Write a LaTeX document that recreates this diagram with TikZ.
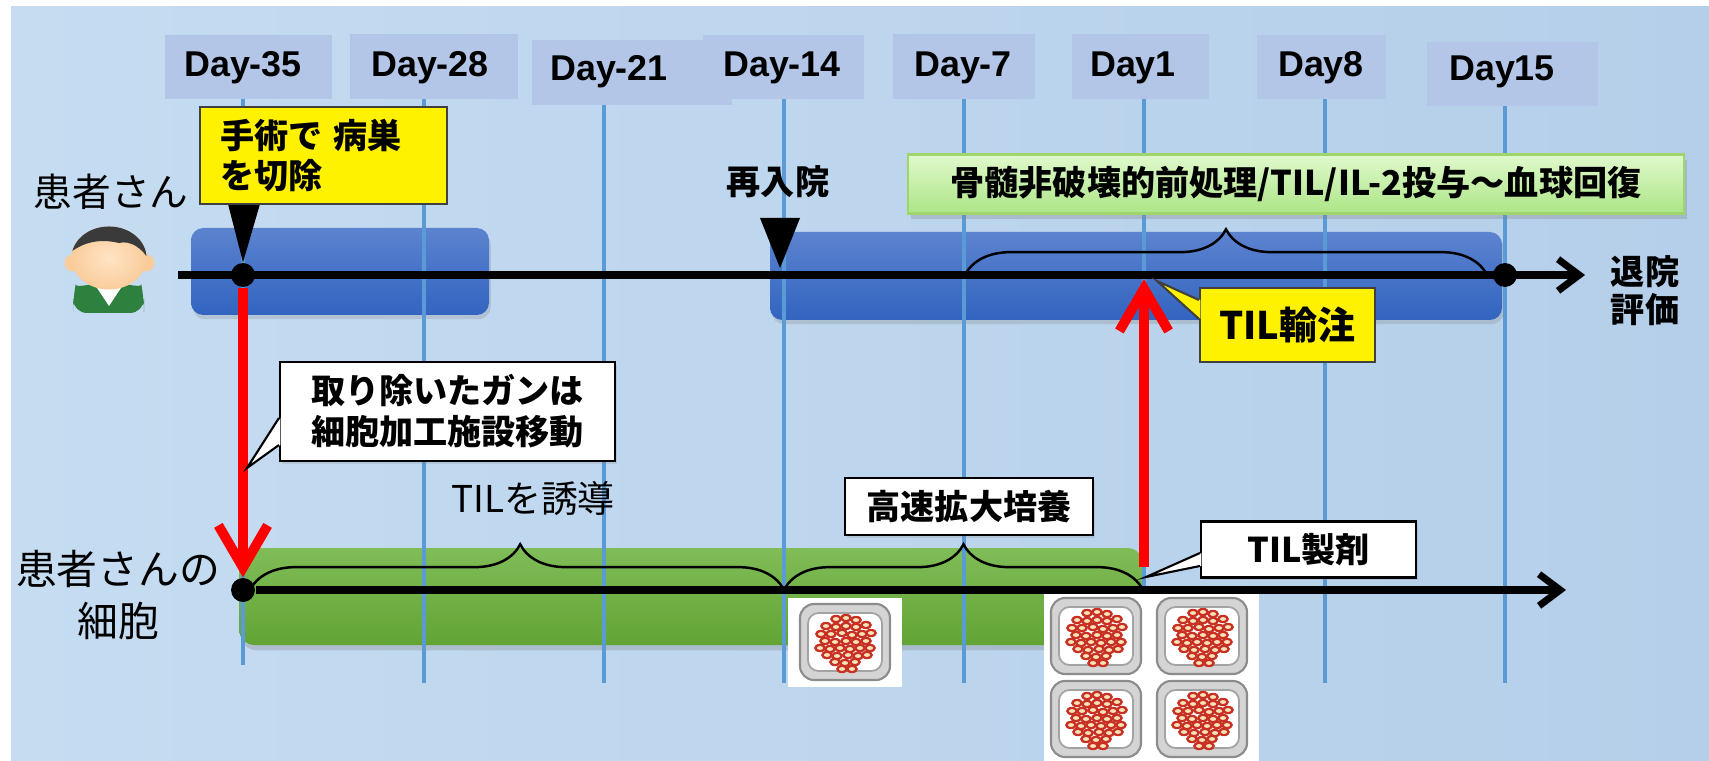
\documentclass[tikz,border=0pt]{standalone}
\usepackage{fontspec}
\setsansfont{Liberation Sans}
\newfontfamily\jp{Noto Sans CJK JP}
\usetikzlibrary{arrows.meta,calc,decorations.pathreplacing,shadows,positioning}

% colours of the schedule
\definecolor{bgleft}{RGB}{197,220,241}
\definecolor{bgmid}{RGB}{208,227,244}
\definecolor{bgright}{RGB}{181,207,234}
\definecolor{daybg}{RGB}{180,198,231}
\definecolor{gridblue}{RGB}{91,155,213}
\definecolor{bartop}{RGB}{92,131,207}
\definecolor{barbot}{RGB}{50,100,192}
\definecolor{celltop}{RGB}{128,188,88}
\definecolor{cellbot}{RGB}{98,164,52}
\definecolor{labtop}{RGB}{224,249,204}
\definecolor{labbot}{RGB}{172,229,134}
\definecolor{labedge}{RGB}{158,214,108}
\definecolor{dishgray}{RGB}{212,212,212}
\definecolor{dishedge}{RGB}{140,140,140}
\definecolor{cellred}{RGB}{200,48,36}
\definecolor{cellcore}{RGB}{248,226,182}
\definecolor{skin}{RGB}{250,204,156}
\definecolor{skinlight}{RGB}{255,228,196}
\definecolor{hair}{RGB}{58,58,58}
\definecolor{shirt}{RGB}{46,128,62}

\tikzset{
  daybox/.style={fill=daybg, inner sep=0pt},
  daytext/.style={font=\sffamily\bfseries\fontsize{10.2}{12}\selectfont, inner sep=0pt},
  gridline/.style={gridblue, line width=1.2pt},
  timeline/.style={line width=2pt, -{Straight Barb[length=6pt,width=9pt]}},
  tdot/.style={circle, fill=black, inner sep=0pt, minimum size=6.8pt},
  redarrow/.style={red, line width=2.8pt, -{Straight Barb[length=12pt,width=14pt]}},
  curly/.style={decorate, decoration={brace, amplitude=13pt, aspect=#1}, line width=0.7pt},
  curly/.default=0.5,
  barshade/.style={top color=bartop, bottom color=barbot,
    drop shadow={opacity=0.25, shadow xshift=0.5pt, shadow yshift=-1.2pt}},
  cellshade/.style={top color=celltop, bottom color=cellbot,
    drop shadow={opacity=0.3, shadow xshift=0.5pt, shadow yshift=-1.5pt}},
  labelbox/.style={draw=labedge, line width=0.6pt, top color=labtop, bottom color=labbot,
    drop shadow={opacity=0.3, shadow xshift=0.8pt, shadow yshift=-1.5pt},
    font=\jp\bfseries\fontsize{9.7}{11.5}\selectfont},
  callbox/.style={draw=black, line width=0.6pt, fill=white,
    drop shadow={opacity=0.2, shadow xshift=0.6pt, shadow yshift=-0.8pt},
    font=\jp\bfseries\fontsize{9.7}{11.5}\selectfont},
  yellowbox/.style={draw=black!75, line width=0.6pt, fill=yellow,
    font=\jp\bfseries\fontsize{9.7}{11.5}\selectfont},
  jtext/.style={font=\jp\fontsize{11}{13}\selectfont, inner sep=0pt},
  jbold/.style={font=\jp\bfseries\fontsize{9.7}{11}\selectfont, inner sep=0pt},
  dish/.pic={
    \filldraw[fill=dishgray, draw=dishedge, line width=0.6pt, rounded corners=4pt] (-45,-38) rectangle (45,38);
    \filldraw[fill=white, draw=dishedge!80, line width=0.5pt, rounded corners=3pt] (-37,-29) rectangle (37,29);
    \foreach \cx/\cy in {-9/-23,1/-24,11/-22,
        -19/-16,-9/-15,1/-16,11/-15,21/-17,
        -24/-8,-14/-8,-3/-9,7/-7,17/-8,26/-9,
        -20/-1,-10/0,1/-1,11/0,21/-1,
        -25/6,-15/7,-5/6,5/7,15/6,25/6,
        -18/13,-8/14,3/13,13/14,22/13,
        -10/20,0/21,10/20,-3/27,7/27}{
      \fill[cellred] (\cx,\cy) ellipse [x radius=0.06cm, y radius=0.042cm];
      \fill[cellcore] (\cx,\cy) ellipse [x radius=0.031cm, y radius=0.019cm];
    }
  }
}

\begin{document}
\begin{tikzpicture}[x=0.01cm, y=-0.01cm]
    \useasboundingbox (0,0) rectangle (1709,761);
    \fill[white] (0,0) rectangle (1709,761);
    \shade[left color=bgleft, middle color=bgmid, right color=bgright] (11,7) rectangle (1709,761);

    % Day headers.
    \foreach \nm/\lab/\bx/\by/\bw/\bh/\tx/\ty in {
        d35/Day-35/248.5/67/167/64/243/68,
        d28/Day-28/434/66.5/168/65/430/68,
        d21/Day-21/632/72.5/200/65/609/72,
        d14/Day-14/783.5/67/161/64/782/68,
        d7/Day-7/964/66.5/142/65/963/68,
        d1/Day1/1140.5/66.5/137/65/1133/68,
        d8/Day8/1321.5/67/129/64/1321/68,
        d15/Day15/1512.5/74/171/64/1502/72}
    {
        \node[daybox, minimum width=\bw*0.01cm, minimum height=\bh*0.01cm] (\nm) at (\bx,\by) {};
        \node[daytext] (\nm t) at (\tx,\ty) {\lab};
    }

    % Stays in hospital and culture period.
    \path[barshade, rounded corners=3.5pt] (191,228) rectangle (489,315);
    \path[barshade, rounded corners=3.5pt] (770,232) rectangle (1502,320);
    \path[cellshade, rounded corners=4.5pt] (239,548) rectangle (1143,645);

    % Week lines.
    \foreach \xx/\yt/\yb in {243/99/665, 424/99/683, 604/105/683, 784/99/683,
                             964/99/683, 1144/99/683, 1325/99/683, 1505/106/683}
        \draw[gridline] (\xx,\yt) -- (\xx,\yb);

    \node[labelbox, minimum width=776*0.01cm, minimum height=56*0.01cm] (prep) at (1296,184)
        {骨髄非破壊的前処理/TIL/IL-2投与～血球回復};

    % Patient icon.
    \fill[shirt, rounded corners=4pt] (73,313) -- (73,298) .. controls (75,288) and (92,284) .. (109,284)
        .. controls (126,284) and (142,288) .. (144,298) -- (144,313) -- cycle;
    \fill[white] (95,285) -- (109,306) -- (123,285) -- cycle;
    \fill[skin] (73,263) circle (0.085cm);
    \fill[skin] (146,263) circle (0.085cm);
    \shade[inner color=skinlight, outer color=skin] (109,258) ellipse [x radius=0.375cm, y radius=0.315cm];
    \begin{scope}
        \clip (109,258) ellipse [x radius=0.375cm, y radius=0.315cm];
        \fill[hair] (60,262) .. controls (78,242) and (98,238) .. (119,243)
            .. controls (130,240) and (143,248) .. (150,262) -- (150,220) -- (60,220) -- cycle;
    \end{scope}

    \node[jtext] (pat) at (111,192) {患者さん};
    \node[jtext, align=center, font=\jp\fontsize{11.6}{14.8}\selectfont] (cells) at (118,595) {患者さんの\\細胞};
    \node[jbold, align=center, font=\jp\bfseries\fontsize{9.7}{10.8}\selectfont] (disc) at (1645,291) {退院\\評価};
    \node[jbold] (readm) at (778,182) {再入院};
    \node[jtext, font=\jp\fontsize{10.5}{12}\selectfont] (ind) at (533,498) {TILを誘導};

    % Culture dishes.
    \fill[white] (788,598) rectangle (902,687);
    \pic at (845,642) {dish};
    \fill[white] (1044,593) rectangle (1259,761);
    \foreach \px/\py in {1096/636, 1202/636, 1096/719, 1202/719}
        \pic at (\px,\py) {dish};

    % Time axes.
    \coordinate (tl1s) at (178,275);
    \coordinate (tl1e) at (1585,275);
    \coordinate (tl2e) at (1566,590);
    \draw[timeline] (tl1s) -- (tl1e);
    \node[tdot] (p0) at (243,275) {};
    \node[tdot] (p1) at (1505,275) {};
    \node[tdot] (c0) at (243,590) {};
    \draw[timeline] (c0) -- (tl2e);

    \draw[curly] (965,275) -- (1487,275);
    \draw[curly=0.506] (250,590) -- (784,590);
    \draw[curly] (784,590) -- (1143,590);

    % Transfer of the tumour and the infusion.
    \coordinate (tilbot) at (1144,567);
    \coordinate (tiltop) at (1144,279);
    \draw[redarrow] (p0) -- (c0);
    \draw[redarrow] (tilbot) -- (tiltop);

    \fill (228,204) -- (260,204) -- (p0.north) -- cycle;
    \fill (760,218) -- (800,218) -- (780,268) -- cycle;

    % Call-outs.
    \node[yellowbox, text width=207*0.01cm, inner xsep=5.7pt, minimum height=97*0.01cm, align=left,
          font=\jp\bfseries\fontsize{9.7}{11.4}\selectfont] (surg) at (323.5,155.5) {手術で 病巣\\を切除};

    \node[callbox, minimum width=335*0.01cm, minimum height=99*0.01cm, align=center,
          font=\jp\bfseries\fontsize{9.7}{11.7}\selectfont] (rmv) at (447.5,411.5) {取り除いたガンは\\細胞加工施設移動};
    \coordinate (rtip) at (247,468);
    \fill[white] ($(rmv.west)+(1.5,6.5)$) -- (rtip) -- ($(rmv.west)+(1.5,33.5)$) -- cycle;
    \draw[line width=0.6pt] ($(rmv.west)+(0,6.5)$) -- (rtip) -- ($(rmv.west)+(0,33.5)$);

    \node[callbox, minimum width=248*0.01cm, minimum height=57*0.01cm] (fast) at (969,506.5) {高速拡大培養};

    \node[callbox, minimum width=215*0.01cm, minimum height=45*0.01cm] (prod) at (1308.5,549.5) {TIL製剤};
    \coordinate (ptip) at (1146,577);
    \fill[white] ($(prod.west)+(1.5,3.5)$) -- (ptip) -- ($(prod.west)+(1.5,16.5)$) -- cycle;
    \draw[line width=0.6pt] ($(prod.west)+(0,3.5)$) -- (ptip) -- ($(prod.west)+(0,16.5)$);

    \node[yellowbox, minimum width=175*0.01cm, minimum height=74*0.01cm,
          font=\jp\bfseries\fontsize{10.8}{12}\selectfont] (inf) at (1287.5,325) {TIL輸注};
    \coordinate (itip) at (1157,281);
    \fill[yellow] ($(inf.west)+(1.5,-25)$) -- (itip) -- ($(inf.west)+(1.5,-6)$) -- cycle;
    \draw[black!75, line width=0.6pt] ($(inf.west)+(0,-25)$) -- (itip) -- ($(inf.west)+(0,-6)$);
\end{tikzpicture}
\end{document}
